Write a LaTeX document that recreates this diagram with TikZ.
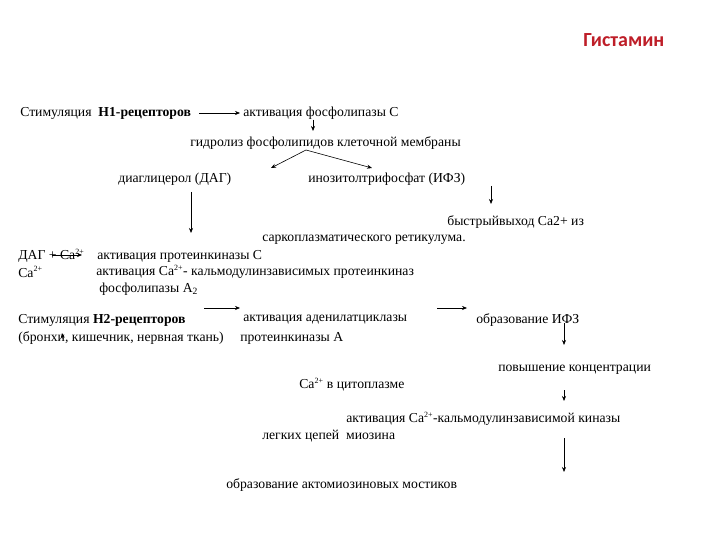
\documentclass[tikz,border=0pt]{standalone}
\usepackage{fontspec}
\setmainfont{Liberation Serif}
\newfontfamily\titlefont{Carlito}
\usetikzlibrary{arrows.meta}
\definecolor{titlered}{RGB}{190,30,40}
\newcommand{\caion}{Са\textsuperscript{\footnotesize 2+}}
\begin{document}
\begin{tikzpicture}[x=1pt, y=-1pt, >={Stealth[length=5pt,width=4pt]}, line width=0.6pt,
	txt/.style={anchor=west, inner sep=0pt, font=\fontsize{13.7}{15}\selectfont}]
	\useasboundingbox (0,0) rectangle (720,540);
	
	% Заголовок
	\node[anchor=west, inner sep=0pt, text=titlered, font=\titlefont\bfseries\fontsize{20}{24}\selectfont] (title) at (583,40) {Гистамин};
	
	% H1-рецепторы
	\node[txt] (h1) at (20,113) {Стимуляция\ \ \textbf{H1-рецепторов}};
	\node[txt] (plc) at (243,113) {активация фосфолипазы С};
	\node[txt] (hydro) at (190,143) {гидролиз фосфолипидов клеточной мембраны};
	\node[txt] (dag) at (118,179) {диаглицерол (ДАГ)};
	\node[txt] (ifz) at (308,179) {инозитолтрифосфат (ИФЗ)};
	\node[txt] (release) at (447,222) {быстрыйвыход Са2+ из};
	\node[txt] (sr) at (262,240) {саркоплазматического ретикулума.};
	\node[txt] (dagca) at (18,256) {ДАГ + \caion};
	\node[txt] (pkc) at (97,256) {активация протеинкиназы С};
	\node[txt] (ca) at (18,272) {\caion};
	\node[txt] (cam) at (96,272) {активация \caion- кальмодулинзависимых протеинкиназ};
	\node[txt] (pla) at (99,289) {фосфолипазы А\textsubscript{2}};
	
	% H2-рецепторы
	\node[txt] (h2) at (18,320) {Стимуляция \textbf{H2-рецепторов}};
	\node[txt] (ac) at (243,320) {активация аденилатциклазы};
	\node[txt] (ifzform) at (476,320) {образование ИФЗ};
	\node[txt] (organs) at (18,338) {(бронхи, кишечник, нервная ткань)};
	\node[txt] (pka) at (240,338) {протеинкиназы А};
	\node[txt] (conc) at (498,370) {повышение концентрации};
	\node[txt] (cacyt) at (299,385) {\caion\ в цитоплазме};
	\node[txt] (mlck) at (346,419) {активация \caion-кальмодулинзависимой киназы};
	\node[txt] (chains) at (262,436) {легких цепей\ \ миозина};
	\node[txt] (bridges) at (226,485) {образование актомиозиновых мостиков};
	
	% Концы стрелок
	\coordinate (plcdown) at (313,131);
	\coordinate (split) at (306,150);
	\coordinate (dagtip) at (271,168);
	\coordinate (ifztip) at (372,168);
	\coordinate (dagdown) at (191,233);
	\coordinate (ifzdown) at (491,204);
	\coordinate (catip) at (82,255);
	\coordinate (actip) at (467,308);
	\coordinate (organtip) at (62,333);
	\coordinate (concdown) at (564,345);
	\coordinate (cytdown) at (564,401);
	\coordinate (mlckdown) at (564,472);
	
	% Стрелки
	\draw[->] ([xshift=8pt]h1.east) -- ([xshift=-3pt]plc.west);
	\draw[->] (plcdown |- plc.south) -- (plcdown);
	\draw[->] (split) -- (dagtip);
	\draw[->] (split) -- (ifztip);
	\draw[->] (191,192) -- (dagdown);
	\draw[->] (491,186) -- (ifzdown);
	\draw[->] (52,255) -- (catip);
	\draw[->] (204,308) -- (240,308);
	\draw[->] (437,308) -- (actip);
	\draw[->] (63,339) -- (organtip);
	\draw[->] (564,323) -- (concdown);
	\draw[->] (564,390) -- (cytdown);
	\draw[->] (564,438) -- (mlckdown);
\end{tikzpicture}
\end{document}
